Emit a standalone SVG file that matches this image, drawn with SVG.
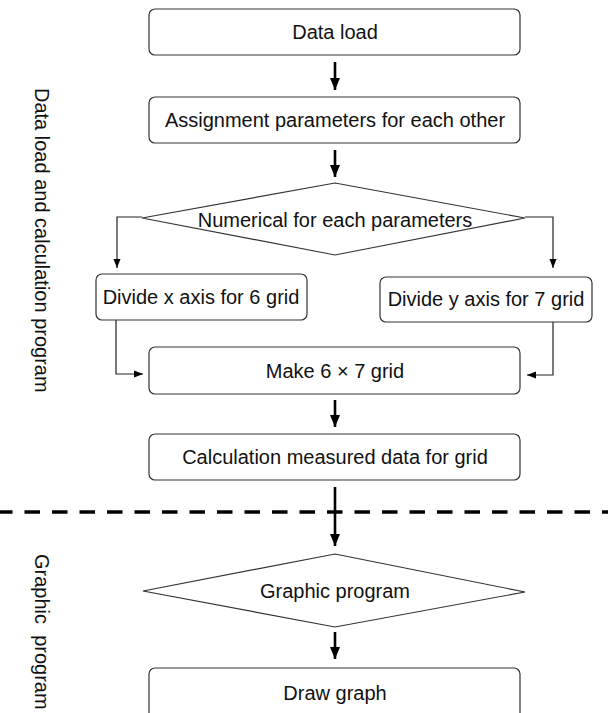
<svg xmlns="http://www.w3.org/2000/svg" width="608" height="713" viewBox="0 0 608 713">
<defs>
<style>
.box{fill:#fff;stroke:#333;stroke-width:1.2}
.t{font-family:"Liberation Sans",Arial,sans-serif;font-size:20px;fill:#111;text-anchor:middle;dominant-baseline:central}
.side{font-family:"Liberation Sans",Arial,sans-serif;font-size:20px;fill:#111;text-anchor:start;dominant-baseline:central;white-space:pre}
.thick{stroke:#000;stroke-width:2.6;fill:none}
.thin{stroke:#222;stroke-width:1.2;fill:none}
</style>
<marker id="big" markerUnits="userSpaceOnUse" viewBox="0 0 12 12" refX="12" refY="6" markerWidth="12" markerHeight="12" orient="auto"><path d="M0,1 L12,6 L0,11 Z" fill="#000"/></marker>
<marker id="small" markerUnits="userSpaceOnUse" viewBox="0 0 9 9" refX="9" refY="4.5" markerWidth="9" markerHeight="9" orient="auto"><path d="M0,1 L9,4.5 L0,8 Z" fill="#000"/></marker>
</defs>
<rect width="608" height="713" fill="#fff"/>

<g id="labels">
<text class="side" transform="translate(42,88) rotate(90)">Data load and calculation program</text>
<text class="side" transform="translate(42,554) rotate(90)">Graphic  program</text>
</g>

<g id="separator">
<line x1="0" y1="512" x2="608" y2="512" stroke="#000" stroke-width="3.5" stroke-dasharray="15.5 12" stroke-dashoffset="3"/>
</g>

<g id="connectors">
<line class="thick" x1="335" y1="62" x2="335" y2="90" marker-end="url(#big)"/>
<line class="thick" x1="335" y1="150" x2="335" y2="177" marker-end="url(#big)"/>
<polyline class="thin" points="142,217 117,217 117,268" marker-end="url(#small)"/>
<polyline class="thin" points="525,217 553,217 553,268" marker-end="url(#small)"/>
<polyline class="thin" points="116,320 116,374 143,374" marker-end="url(#small)"/>
<polyline class="thin" points="553,322 553,375 527,375" marker-end="url(#small)"/>
<line class="thick" x1="335" y1="400" x2="335" y2="427" marker-end="url(#big)"/>
<line class="thick" x1="335" y1="487" x2="335" y2="546" marker-end="url(#big)"/>
<line class="thick" x1="335" y1="632" x2="335" y2="659" marker-end="url(#big)"/>
</g>

<g id="n1"><rect class="box" x="149" y="9" width="371" height="46" rx="6"/><text class="t" x="335" y="32">Data load</text></g>
<g id="n2"><rect class="box" x="149" y="97" width="371" height="46" rx="6"/><text class="t" x="335" y="120">Assignment parameters for each other</text></g>
<g id="n3"><polygon class="box" points="335,183 525,218 335,255 142,218"/><text class="t" x="335" y="220">Numerical for each parameters</text></g>
<g id="n4"><rect class="box" x="96" y="274" width="211" height="46" rx="6"/><text class="t" x="201" y="297">Divide x axis for 6 grid</text></g>
<g id="n5"><rect class="box" x="380" y="277" width="212" height="45" rx="6"/><text class="t" x="486" y="299">Divide y axis for 7 grid</text></g>
<g id="n6"><rect class="box" x="149" y="347" width="371" height="47" rx="6"/><text class="t" x="335" y="371" style="white-space:pre">Make 6 × 7 grid</text></g>
<g id="n7"><rect class="box" x="149" y="434" width="371" height="46" rx="6"/><text class="t" x="335" y="457">Calculation measured data for grid</text></g>
<g id="n8"><polygon class="box" points="335,554 525,592 335,627 143,591"/><text class="t" x="335" y="591">Graphic program</text></g>
<g id="n9"><rect class="box" x="149" y="668" width="371" height="60" rx="6"/><text class="t" x="335" y="693">Draw graph</text></g>
</svg>
